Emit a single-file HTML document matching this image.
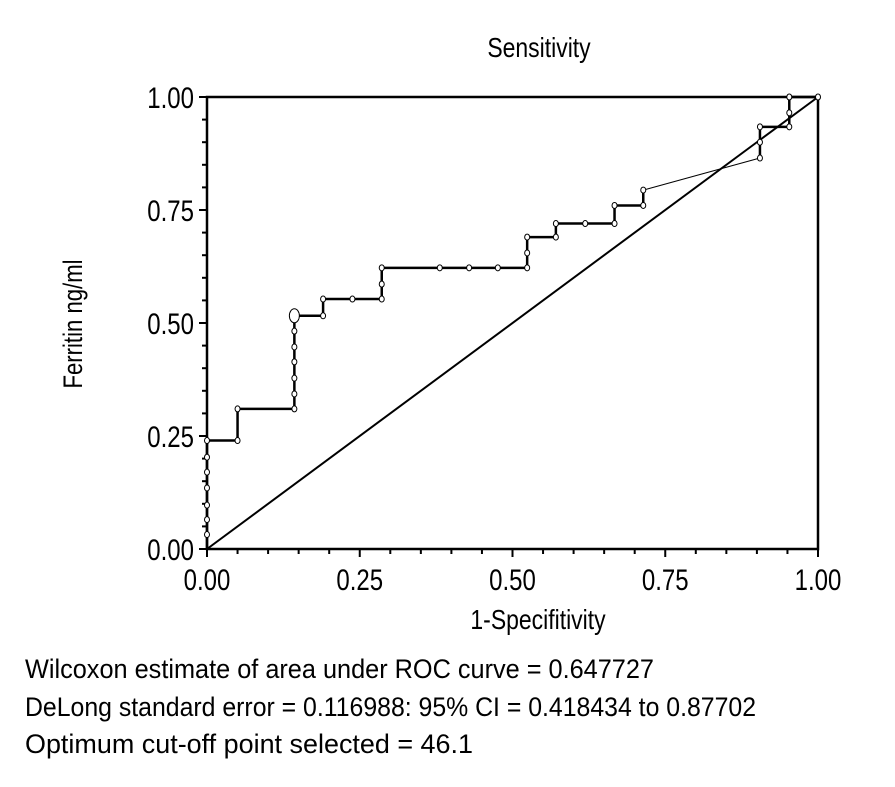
<!DOCTYPE html>
<html><head><meta charset="utf-8"><style>
html,body{margin:0;padding:0;background:#fff;}
svg{display:block;font-family:"Liberation Sans",sans-serif;}
</style></head><body>
<svg id="chart" width="895" height="787" viewBox="0 0 895 787">
<rect width="895" height="787" fill="#fff"/>
<g id="ticks"></g>
<g id="marks"></g>
<text x="0" y="0" font-size="28" text-anchor="middle" transform="translate(539,57) scale(0.82,1)">Sensitivity</text>
<text x="0" y="0" font-size="27" text-anchor="middle" transform="translate(82,324) rotate(-90) scale(0.82,1)">Ferritin ng/ml</text>
<text x="0" y="0" font-size="28" text-anchor="middle" transform="translate(538,629) scale(0.82,1)">1-Specifitivity</text>
<text x="25" y="678" font-size="27" textLength="629" lengthAdjust="spacingAndGlyphs">Wilcoxon estimate of area under ROC curve = 0.647727</text>
<text x="25" y="716" font-size="27" textLength="731" lengthAdjust="spacingAndGlyphs">DeLong standard error = 0.116988: 95% CI = 0.418434 to 0.87702</text>
<text x="25" y="753" font-size="27" textLength="448" lengthAdjust="spacingAndGlyphs">Optimum cut-off point selected = 46.1</text>
</svg>
<script>
const fprValues=[0,0,0,0,0,0,0,0,0.05,0.05,0.143,0.143,0.143,0.143,0.143,0.143,0.143,0.19,0.19,0.238,0.286,0.286,0.286,0.381,0.429,0.476,0.524,0.524,0.524,0.571,0.571,0.619,0.667,0.667,0.714,0.714];
const tprValues=[0,0.032,0.065,0.097,0.135,0.17,0.203,0.24,0.24,0.31,0.31,0.343,0.378,0.414,0.447,0.482,0.516,0.516,0.553,0.553,0.553,0.586,0.622,0.622,0.622,0.622,0.622,0.655,0.69,0.69,0.72,0.72,0.72,0.76,0.76,0.794];
const tailFpr=[0.905,0.905,0.905,0.953,0.953,0.953,1.0];
const tailTpr=[0.865,0.90,0.934,0.934,0.965,1.0,1.0];
const tickValues=[0,0.05,0.1,0.15,0.2,0.25,0.3,0.35,0.4,0.45,0.5,0.55,0.6,0.65,0.7,0.75,0.8,0.85,0.9,0.95,1.0];
const tickLabels=["0.00","0.25","0.50","0.75","1.00"];
const X0=207,X1=818,Y0=549,Y1=97;
const sx=v=>X0+(X1-X0)*v, sy=v=>Y0-(Y0-Y1)*v;
const NS="http://www.w3.org/2000/svg";
function mk(tag,attrs,parent){const e=document.createElementNS(NS,tag);for(const k in attrs)e.setAttribute(k,attrs[k]);parent.appendChild(e);return e;}
const tg=document.getElementById('ticks'),mg=document.getElementById('marks');
const frame=mk('rect',{x:X0,y:Y1,width:X1-X0,height:Y0-Y1,fill:'none',stroke:'#000','stroke-width':2.5},tg);


tickValues.forEach((v,i)=>{
  const major=i%5===0, len=major?8:5;
  const t1=mk('line',{x1:sx(v),x2:sx(v),y1:Y0,y2:Y0+len,stroke:'#000','stroke-width':2},tg);
  
  
  const t2=mk('line',{x1:X0,x2:X0-len,y1:sy(v),y2:sy(v),stroke:'#000','stroke-width':2},tg);
  
  
  if(major){
    const lab=tickLabels[i/5];
    const xl=mk('text',{x:0,y:0,'font-size':30,'text-anchor':'middle',transform:`translate(${sx(v)},${Y0+41}) scale(0.8,1)`},tg);
    xl.textContent=lab;
    
    
    const yl=mk('text',{x:0,y:0,'font-size':30,'text-anchor':'end',transform:`translate(${X0-13},${sy(v)+11}) scale(0.8,1)`},tg);
    yl.textContent=lab;
    
    
  }
});
const diag=mk('line',{x1:sx(0),y1:sy(0),x2:sx(1),y2:sy(1),stroke:'#000','stroke-width':2},mg);


function stepPath(xs,ys){let d=`M${sx(xs[0])},${sy(ys[0])}`;for(let i=1;i<xs.length;i++)d+=` L${sx(xs[i])},${sy(ys[i])}`;return d;}
const p1=mk('path',{d:stepPath(fprValues,tprValues),fill:'none',stroke:'#000','stroke-width':2.5},mg);


const li=fprValues.length-1;
const conn=mk('line',{x1:sx(fprValues[li]),y1:sy(tprValues[li]),x2:sx(tailFpr[0]),y2:sy(tailTpr[0]),stroke:'#000','stroke-width':1},mg);


const p2=mk('path',{d:stepPath(tailFpr,tailTpr),fill:'none',stroke:'#000','stroke-width':2.5},mg);


const allX=fprValues.concat(tailFpr),allY=tprValues.concat(tailTpr);
allX.forEach((v,i)=>{
  if(i===0)return;
  const big=(i===16);
  const c=mk('ellipse',{cx:sx(v),cy:sy(allY[i]),rx:big?5:2.5,ry:big?7:3,fill:'#fff',stroke:'#000','stroke-width':1},mg);
  
  
});
</script>
</body></html>
